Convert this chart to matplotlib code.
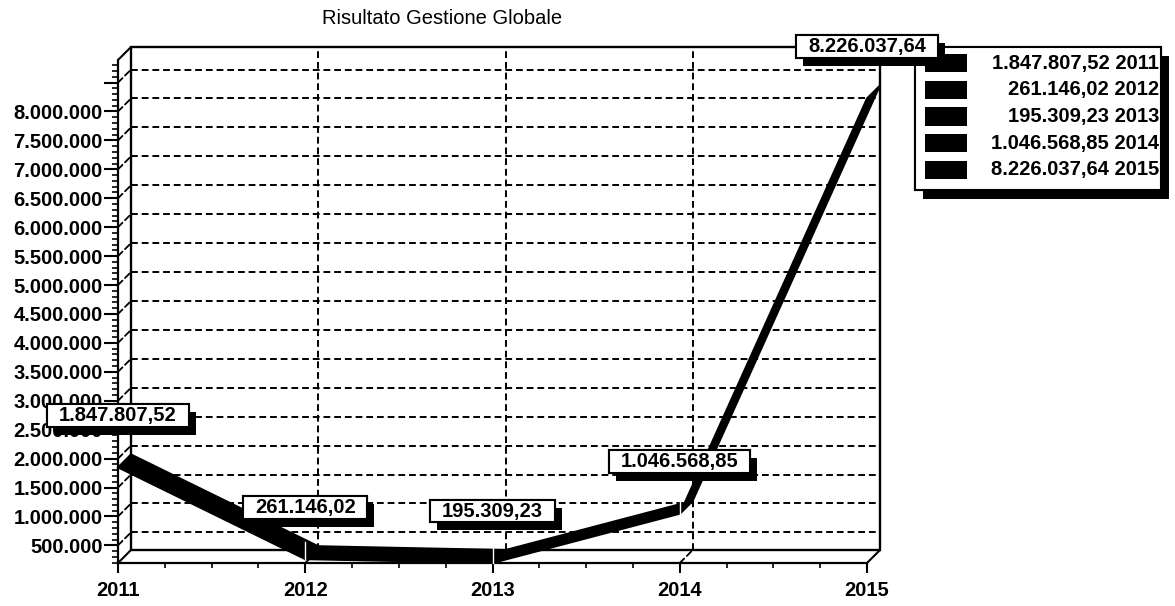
import matplotlib
matplotlib.use("Agg")
import matplotlib.pyplot as plt
import matplotlib.transforms as mtransforms
import matplotlib.patheffects as pe
from matplotlib.path import Path
from matplotlib.patches import Rectangle, ConnectionPatch
from matplotlib.ticker import FixedLocator, MultipleLocator, FuncFormatter

plt.rcParams["font.family"] = ["Liberation Sans", "DejaVu Sans"]
plt.rcParams["font.weight"] = "bold"

# ---- data -------------------------------------------------------------
title = "Risultato Gestione Globale"
years = [2011, 2012, 2013, 2014, 2015]
results = [1847807.52, 261146.02, 195309.23, 1046568.85, 8226037.64]
y_ticks = list(range(500000, 8500001, 500000))
y_labelled_max = 8000000
y_top = 8890000


def it_num(v, dec):
    """Italian number format: 1.234.567,89"""
    s = f"{v:,.{dec}f}"
    return s.replace(",", "_").replace(".", ",").replace("_", ".")


def wide_box(x0, y0, width, height, mutation_size):
    """Rectangular text box, wider padding left/right than top/bottom."""
    px, py = 0.58 * mutation_size, 0.09 * mutation_size
    x0, y0 = x0 - px, y0 - py
    x1, y1 = x0 + width + 2 * px, y0 + height + 2 * py
    return Path([(x0, y0), (x1, y0), (x1, y1), (x0, y1), (x0, y0)],
                closed=True)


# ---- figure / axes ----------------------------------------------------
W, H, DPI = 1175, 606, 100
DEPTH = 13  # depth of the pseudo-3D box, pixels
FS = 14.5

fig = plt.figure(figsize=(W / DPI, H / DPI), dpi=DPI)
fig.patch.set_facecolor("white")
ax = fig.add_axes([118 / W, 1 - 563 / H, 749 / W, 503 / H])
ax.set_xlim(years[0], years[-1])
ax.set_ylim(min(results), y_top)
ax.patch.set_visible(False)

depth_tr = mtransforms.ScaledTranslation(DEPTH / DPI, DEPTH / DPI, fig.dpi_scale_trans)
back_axes = ax.transAxes + depth_tr
back_x = ax.get_xaxis_transform() + depth_tr
back_y = ax.get_yaxis_transform() + depth_tr

GRID_LS = (0, (3.5, 2.0))

# back wall
ax.add_patch(Rectangle((0, 0), 1, 1, transform=back_axes, fc="white",
                       ec="black", lw=1.7, zorder=0.5, clip_on=False))

# grid on the back wall
for v in y_ticks:
    ax.plot([0, 1], [v, v], transform=back_y, color="black", lw=1.4,
            ls=GRID_LS, zorder=1, clip_on=False)
for yr in years[1:-1]:
    ax.plot([yr, yr], [0, 1], transform=back_x, color="black", lw=1.4,
            ls=GRID_LS, zorder=1, clip_on=False)


def link(xy, tr, **kw):
    """Line from a point on the front plane to the same point on the back wall."""
    cp = ConnectionPatch(xy, xy, coordsA=tr, coordsB=tr + depth_tr,
                         color="black", clip_on=False, **kw)
    ax.add_artist(cp)


# box edges between front and back
link((0, 1), ax.transAxes, lw=1.5, zorder=2)
link((0, 0), ax.transAxes, lw=1.5, zorder=2)
link((1, 0), ax.transAxes, lw=1.5, zorder=2)
# grid on the left wall and on the floor
for v in y_ticks:
    link((0, v), ax.get_yaxis_transform(), lw=1.3, ls=GRID_LS, zorder=1)
for yr in years[1:-1]:
    link((yr, 0), ax.get_xaxis_transform(), lw=1.3, ls=GRID_LS, zorder=1)

# ---- ribbon line ------------------------------------------------------
x0, x1 = ax.get_xlim()
y0, y1 = ax.get_ylim()
dxd = DEPTH * (x1 - x0) / ax.bbox.width
dyd = DEPTH * (y1 - y0) / ax.bbox.height

for i in range(len(years) - 1):
    xs = [years[i], years[i + 1], years[i + 1] + dxd, years[i] + dxd]
    ys = [results[i], results[i + 1], results[i + 1] + dyd, results[i] + dyd]
    ax.fill(xs, ys, color="black", lw=1.4, zorder=3, clip_on=False)
for i in range(1, len(years) - 1):
    ax.plot([years[i], years[i]], [results[i], results[i] + dyd * 1.3],
            color="white", lw=1.0, zorder=4, clip_on=False)

# ---- value labels -----------------------------------------------------
for yr, v in zip(years, results):
    t = ax.annotate(it_num(v, 2), xy=(yr, v), xytext=(0, 52),
                    textcoords="offset pixels", ha="center", va="center",
                    fontsize=FS, fontweight="bold", zorder=10,
                    annotation_clip=False,
                    bbox=dict(boxstyle=wide_box, fc="white",
                              ec="black", lw=1.5))
    t.get_bbox_patch().set_path_effects(
        [pe.withSimplePatchShadow(offset=(5, -5.8), shadow_rgbFace="black",
                                  alpha=1.0), pe.Normal()])

# ---- axes styling -----------------------------------------------------
for side in ("top", "right"):
    ax.spines[side].set_visible(False)
for side in ("left", "bottom"):
    ax.spines[side].set_linewidth(1.6)
    ax.spines[side].set_zorder(2)

ax.yaxis.set_major_locator(FixedLocator(y_ticks))
ax.yaxis.set_major_formatter(
    FuncFormatter(lambda v, p: it_num(v, 0) if v <= y_labelled_max else ""))
ax.yaxis.set_minor_locator(MultipleLocator(100000))
ax.xaxis.set_major_locator(FixedLocator(years))
ax.xaxis.set_major_formatter(FuncFormatter(lambda v, p: f"{int(round(v))}"))
ax.xaxis.set_minor_locator(MultipleLocator(0.25))
ax.tick_params(which="major", width=1.5, labelsize=FS)
ax.tick_params(which="minor", width=1.2)
ax.tick_params(axis="y", which="major", length=10, pad=1)
ax.tick_params(axis="y", which="minor", length=4)
ax.tick_params(axis="x", which="major", length=7.5, pad=5.5)
ax.tick_params(axis="x", which="minor", length=3.5)

fig.text(442 / W, 1 - 18.5 / H, title, ha="center", va="center",
         fontsize=FS, fontweight="normal")

# ---- legend -----------------------------------------------------------
def fx(px):
    return px / W


def fy(py):
    return 1 - py / H


leg = Rectangle((fx(915), fy(190)), fx(1161) - fx(915), fy(47) - fy(190),
                transform=fig.transFigure, fc="white", ec="black", lw=1.5,
                zorder=8, clip_on=False)
leg.set_path_effects([pe.withSimplePatchShadow(offset=(6, -6.5),
                                               shadow_rgbFace="black",
                                               alpha=1.0), pe.Normal()])
ax.add_patch(leg)
row_h = 26.75
for k, (yr, v) in enumerate(zip(years, results)):
    yc = 63 + k * row_h
    ax.add_patch(Rectangle((fx(925), fy(yc + 9)), fx(967) - fx(925),
                           fy(yc - 9) - fy(yc + 9),
                           transform=fig.transFigure, fc="black", ec="none",
                           zorder=9, clip_on=False))
    ax.text(fx(1159), fy(yc), f"{it_num(v, 2)} {yr}",
            transform=fig.transFigure, ha="right", va="center",
            fontsize=FS, fontweight="bold", zorder=9, clip_on=False)

fig.savefig("out.png", dpi=DPI)
